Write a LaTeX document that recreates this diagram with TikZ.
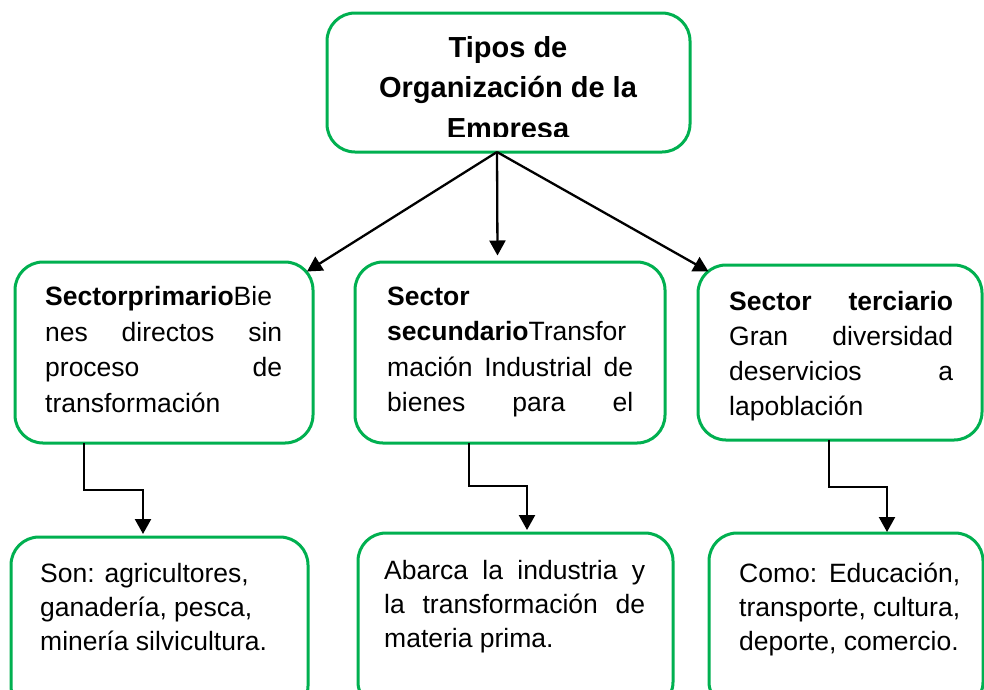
\documentclass[tikz,border=0pt]{standalone}
\usepackage{fontspec}
\setmainfont{Liberation Sans}
\usetikzlibrary{arrows.meta}
\definecolor{grn}{RGB}{0,176,80}
\begin{document}
\begin{tikzpicture}[x=1pt,y=-1pt,
  box/.style={draw=grn, line width=3pt, rounded corners=28pt, fill=white, inner sep=0pt},
  arr/.style={draw=black, line width=2.3pt, -{Triangle[length=15pt,width=16pt]}},
  txt/.style={anchor=base west, inner sep=0pt, font=\fontsize{26.5}{34}\selectfont},
  ttl/.style={anchor=base, inner sep=0pt, font=\fontsize{29}{38}\selectfont\bfseries}]
\useasboundingbox (0,0) rectangle (984,689);
\clip (0,0) rectangle (984,689);
\fill[white] (0,0) rectangle (984,689);

% boxes
\node[box, minimum width=363pt, minimum height=139pt] (top) at (508.5,82.5) {};
\node[box, minimum width=298pt, minimum height=181pt] (b1) at (164,352.5) {};
\node[box, minimum width=310pt, minimum height=181pt] (b2) at (510,352.5) {};
\node[box, minimum width=284pt, minimum height=175pt] (b3) at (840,352.5) {};
\node[box, minimum width=297pt, minimum height=177pt] (c1) at (159.5,625.5) {};
\node[box, minimum width=315pt, minimum height=177pt] (c2) at (515.5,621.5) {};
\node[box, minimum width=274pt, minimum height=177pt] (c3) at (846,621.5) {};

% title
\node[ttl] (ta) at (508,57.5) {Tipos de};
\node[ttl] (tb) at (508,97.5) {Organización de la};
\begin{scope}
  \clip (327,13) rectangle (690,136);
  \node[ttl] (tc) at (508,138) {Empresa};
\end{scope}

% level 2 texts
\node[txt] (t11) at (45,305) {\textbf{Sectorprimario}Bie};
\node[txt] (t12) at (45,341) {\makebox[237pt][s]{nes directos sin}};
\node[txt] (t13) at (45,376.5) {\makebox[237pt][s]{proceso de}};
\node[txt] (t14) at (45,412) {transformación};

\node[txt] (t21) at (387,305) {\textbf{Sector}};
\node[txt] (t22) at (387,340) {\textbf{secundario}Transfor};
\node[txt] (t23) at (387,376.5) {\makebox[246pt][s]{mación Industrial de}};
\node[txt] (t24) at (387,411.5) {\makebox[246pt][s]{bienes para el}};

\node[txt] (t31) at (729,310) {\makebox[224pt][s]{\textbf{Sector terciario}}};
\node[txt] (t32) at (729,345) {\makebox[224pt][s]{Gran diversidad}};
\node[txt] (t33) at (729,380) {\makebox[224pt][s]{deservicios a}};
\node[txt] (t34) at (729,415) {lapoblación};

% level 3 texts
\node[txt] (u11) at (40,582) {Son: agricultores,};
\node[txt] (u12) at (40,616) {ganadería, pesca,};
\node[txt] (u13) at (40,650) {minería silvicultura.};

\node[txt] (u21) at (384,579) {\makebox[261pt][s]{Abarca la industria y}};
\node[txt] (u22) at (384,613) {\makebox[261pt][s]{la transformación de}};
\node[txt] (u23) at (384,647) {materia prima.};

\node[txt] (u31) at (739,582) {\makebox[221pt][s]{Como: Educación,}};
\node[txt] (u32) at (739,616) {transporte, cultura,};
\node[txt] (u33) at (739,650) {deporte, comercio.};

% connectors from title
\coordinate (src) at (497,152);
\coordinate (e1) at (307,271.5);
\coordinate (e2) at (497.5,255.5);
\coordinate (e3) at (708.5,271.5);
\draw[arr] (src) -- (e1);
\draw[arr] (src) -- (e2);
\draw[arr] (src) -- (e3);

% elbow connectors
\coordinate (s1) at (84,443);
\coordinate (k1) at (143,490);
\coordinate (d1) at (143,534);
\draw[arr] (s1) |- (k1) -- (d1);

\coordinate (s2) at (469,443);
\coordinate (k2) at (527,486);
\coordinate (d2) at (527,530);
\draw[arr] (s2) |- (k2) -- (d2);

\coordinate (s3) at (829,440);
\coordinate (k3) at (887,487);
\coordinate (d3) at (887,532);
\draw[arr] (s3) |- (k3) -- (d3);
\end{tikzpicture}
\end{document}
